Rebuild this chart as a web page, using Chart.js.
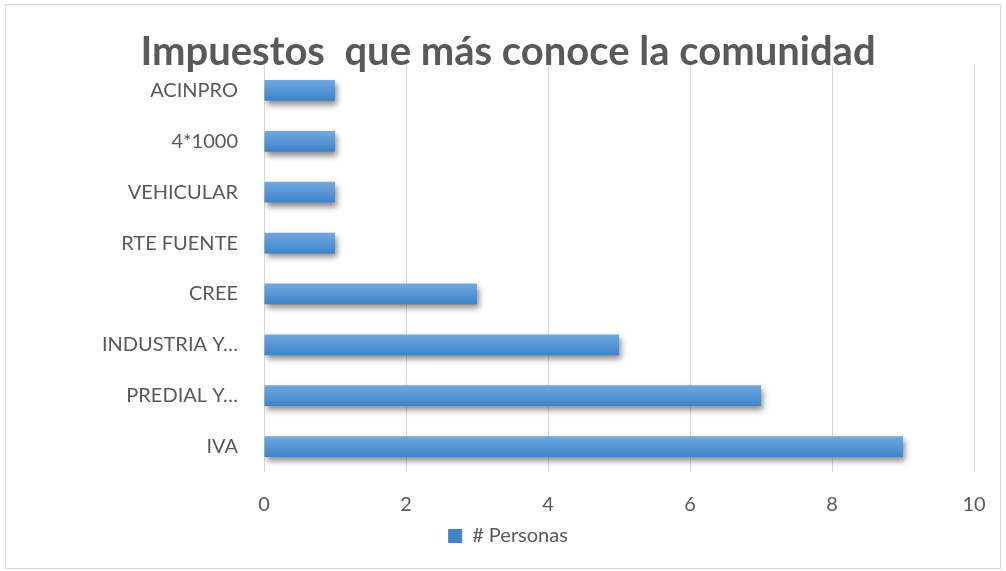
<!DOCTYPE html>
<html>
<head>
<meta charset="utf-8">
<script src="https://cdn.jsdelivr.net/npm/chart.js@4/dist/chart.umd.min.js"></script>
<style>
  html, body { margin: 0; padding: 0; background: #fff; }
  .frame { position: absolute; left: 5px; top: 4px; width: 994px; height: 563px; border: 1px solid #d9d9d9; }
  canvas { display: block; }
</style>
</head>
<body>
<div class="frame"><canvas id="chart" width="994" height="563"></canvas></div>
<script>
const categories = ["ACINPRO", "4*1000", "VEHICULAR", "RTE FUENTE", "CREE", "INDUSTRIA Y…", "PREDIAL Y…", "IVA"];
const personas = [1, 1, 1, 1, 3, 5, 7, 9];
const xTicks = [0, 2, 4, 6, 8, 10];

const textColor = "#595959";
const fontFamily = "Lato, 'Liberation Sans', sans-serif";

// drop shadow under the bars
const barShadow = {
  id: "barShadow",
  beforeDatasetsDraw(chart) {
    const ctx = chart.ctx;
    ctx.save();
    ctx.shadowColor = "rgba(0,0,0,0.45)";
    ctx.shadowBlur = 6;
    ctx.shadowOffsetX = 2;
    ctx.shadowOffsetY = 4;
  },
  afterDatasetsDraw(chart) {
    chart.ctx.restore();
  },
};

const barFill = (context) => {
  const chart = context.chart;
  const yScale = chart.scales.y;
  if (!yScale || context.dataIndex === undefined) return "#5b9bd5";
  const y = yScale.getPixelForValue(context.dataIndex);
  if (!Number.isFinite(y)) return "#5b9bd5";
  const g = chart.ctx.createLinearGradient(0, y - 10, 0, y + 10);
  g.addColorStop(0, "#70a8df");
  g.addColorStop(1, "#3d84cb");
  return g;
};

new Chart(document.getElementById("chart"), {
  type: "bar",
  data: {
    labels: categories,
    datasets: [
      {
        label: "# Personas",
        data: personas,
        backgroundColor: barFill,
        borderWidth: 0,
        barPercentage: 0.41,
        categoryPercentage: 1,
      },
    ],
  },
  options: {
    indexAxis: "y",
    responsive: false,
    animation: false,
    layout: { padding: { top: 20, right: 26, bottom: 12, left: 36 } },
    scales: {
      x: {
        min: 0,
        max: 10,
        afterBuildTicks: (scale) => {
          scale.ticks = xTicks.map((v) => ({ value: v }));
        },
        afterFit: (scale) => {
          scale.height = 44;
          scale.paddingLeft = 0;
          scale.paddingRight = 0;
        },
        grid: { color: "#d9d9d9", drawTicks: false },
        border: { display: false },
        ticks: {
          color: textColor,
          padding: 21,
          font: { family: fontFamily, size: 20 },
        },
      },
      y: {
        afterFit: (scale) => {
          scale.width = 222;
        },
        grid: { display: false },
        border: { display: false },
        ticks: {
          color: textColor,
          padding: 18,
          font: { family: fontFamily, size: 20 },
        },
      },
    },
    plugins: {
      title: {
        display: true,
        text: "Impuestos  que más conoce la comunidad",
        color: textColor,
        font: { family: fontFamily, size: 40, weight: "bold" },
        padding: { top: 3, bottom: -11 },
      },
      legend: {
        position: "bottom",
        labels: {
          color: textColor,
          boxWidth: 14,
          boxHeight: 14,
          padding: 10,
          font: { family: fontFamily, size: 20 },
        },
      },
      tooltip: { enabled: false },
    },
  },
  plugins: [barShadow],
});
</script>
</body>
</html>
